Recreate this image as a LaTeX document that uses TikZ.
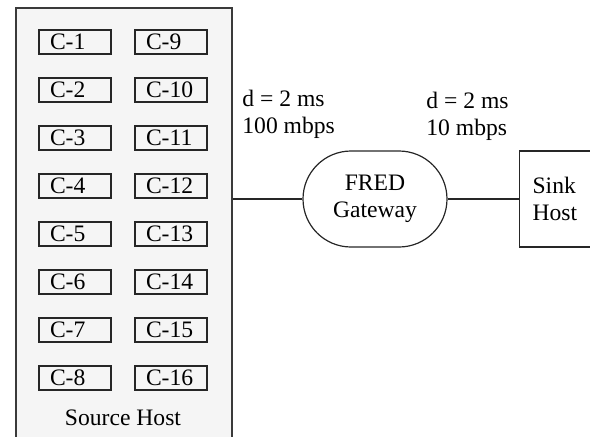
\documentclass[tikz,border=0pt]{standalone}
\usepackage{fontspec}
\setmainfont{Liberation Serif}

\definecolor{hostfill}{HTML}{F5F5F5}
\definecolor{hostline}{HTML}{3A3A3A}

\tikzset{
  hostbox/.style={draw=hostline,fill=hostfill,line width=0.9pt,inner sep=0pt},
  cbox/.style={draw=black!85,line width=0.6pt,minimum height=12pt,inner ysep=0pt,
    inner xsep=5.5pt,text width=25pt,align=left},
  link/.style={draw=black!85,line width=0.6pt}
}

\begin{document}
\begin{tikzpicture}[x=0.5pt,y=-0.5pt,font=\fontsize{11.8}{13.5}\selectfont]
	
	\useasboundingbox (0,0) rectangle (590,436);
	\clip (0,0) rectangle (590,436);
	
	% Source host
	\node[hostbox,anchor=north west,minimum width=108pt,minimum height=250pt] (src) at (15,7) {};
	\node (srclabel) at (123,418) {Source Host};
	
	% Connections C-1 .. C-16
	\foreach \i in {1,...,8}{
		\pgfmathtruncatemacro{\j}{\i+8}
		\node[cbox,fill=hostfill] (c\i) at (75,{42+48*(\i-1)}) {C-\i};
		\node[cbox,fill=hostfill] (c\j) at (171,{42+48*(\i-1)}) {C-\j};
	}
	
	% Gateway
	\node[draw=black!85,line width=0.6pt,rounded corners=24pt,
		minimum width=72pt,minimum height=48pt,align=center] (gw) at (375,199) {FRED\\Gateway};
	
	% Sink host
	\node[draw=black!85,line width=0.6pt,anchor=west,minimum height=48pt,
		inner xsep=6.5pt,text width=40pt,align=left] (sink) at (519,199) {Sink\\Host};
	
	% Links
	\draw[link] (gw.west) -- (gw.west -| src.east);
	\draw[link] (gw.east) -- (sink.west);
	
	% Link parameters
	\node[anchor=west,align=left,inner sep=0pt] (lnk1) at (242,114) {d = 2 ms\\100 mbps};
	\node[anchor=west,align=left,inner sep=0pt] (lnk2) at (426,116) {d = 2 ms\\10 mbps};
	
\end{tikzpicture}
\end{document}
